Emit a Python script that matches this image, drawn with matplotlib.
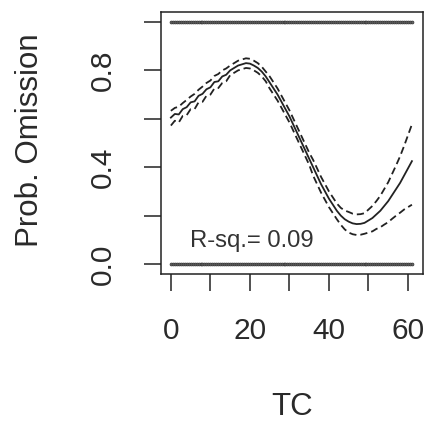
import matplotlib
matplotlib.use("Agg")
import matplotlib.pyplot as plt

# ---- data ----
tc = list(range(0, 62))
fit = [0.605, 0.62, 0.618, 0.64, 0.648, 0.668, 0.672, 0.695, 0.703, 0.722,
       0.73, 0.752, 0.755, 0.775, 0.782, 0.80, 0.81, 0.82, 0.825, 0.83,
       0.828, 0.82, 0.81, 0.795, 0.775, 0.75, 0.725, 0.70, 0.67, 0.64,
       0.61, 0.575, 0.54, 0.505, 0.47, 0.435, 0.40, 0.365, 0.33, 0.30,
       0.27, 0.245, 0.22, 0.20, 0.185, 0.175, 0.168, 0.165, 0.166, 0.17,
       0.18, 0.19, 0.205, 0.22, 0.24, 0.26, 0.285, 0.31, 0.335, 0.365,
       0.395, 0.425]
upper = [0.633, 0.645, 0.650, 0.665, 0.678, 0.692, 0.703, 0.720, 0.733, 0.748,
         0.758, 0.777, 0.785, 0.800, 0.808, 0.82, 0.83, 0.84, 0.845, 0.85,
         0.848, 0.84, 0.83, 0.815, 0.795, 0.775, 0.75, 0.725, 0.695, 0.665,
         0.635, 0.60, 0.565, 0.53, 0.495, 0.46, 0.43, 0.395, 0.36, 0.33,
         0.30, 0.275, 0.25, 0.232, 0.221, 0.215, 0.208, 0.205, 0.206, 0.21,
         0.225, 0.24, 0.26, 0.282, 0.31, 0.338, 0.373, 0.408, 0.445, 0.487,
         0.532, 0.577]
lower = [0.572, 0.592, 0.585, 0.612, 0.615, 0.640, 0.640, 0.668, 0.670, 0.695,
         0.700, 0.725, 0.727, 0.748, 0.755, 0.78, 0.79, 0.80, 0.805, 0.81,
         0.808, 0.80, 0.79, 0.775, 0.755, 0.725, 0.70, 0.675, 0.645, 0.615,
         0.585, 0.55, 0.515, 0.48, 0.445, 0.41, 0.365, 0.33, 0.295, 0.265,
         0.235, 0.21, 0.185, 0.162, 0.143, 0.13, 0.123, 0.12, 0.121, 0.125,
         0.13, 0.135, 0.145, 0.152, 0.163, 0.173, 0.187, 0.20, 0.212, 0.225,
         0.235, 0.245]
# observed TC values (omission coded 0 / 1)
tc_obs = [0, 0.5, 1, 1.5, 2, 2.5, 3, 3.5, 4, 4.5, 5, 5.5, 6, 6.5, 7, 7.5, 8, 8.5,
          9, 9.5, 10, 10.5, 11, 11.5, 12, 12.5, 13, 13.5, 14, 14.5, 15, 15.5,
          16, 16.5, 17, 17.5, 18, 18.5, 19, 19.5, 20, 20.5, 21, 21.5, 22, 22.5,
          23, 23.5, 24, 24.5, 25, 25.5, 26, 26.5, 27, 27.5, 28, 28.5, 29, 29.5,
          30, 30.5, 31, 31.5, 32, 32.5, 33, 33.5, 34, 34.5, 35, 35.5, 36, 36.5,
          37, 37.5, 38, 38.5, 39, 39.5, 40, 40.5, 41, 41.5, 42, 42.5, 43, 43.5,
          44, 44.5, 45, 45.5, 46, 46.5, 47, 47.5, 48, 48.5, 49, 49.5, 50, 50.5,
          51, 51.5, 52, 52.5, 53, 53.5, 54, 54.5, 55, 55.5, 56, 56.5, 57, 57.5,
          58, 58.5, 59, 59.5, 60, 60.5, 61]
obs_levels = [0, 1]
xticks = [0, 10, 20, 30, 40, 50, 60]
xticklabels = ["0", "", "20", "", "40", "", "60"]
yticks = [0.0, 0.2, 0.4, 0.6, 0.8, 1.0]
yticklabels = ["0.0", "", "0.4", "", "0.8", ""]
rsq_text = "R-sq.= 0.09"

plt.rcParams['font.family'] = ['Liberation Sans', 'DejaVu Sans']
ink = '#222222'

fig = plt.figure(figsize=(4.28, 4.23), dpi=100)
W, H = 428, 423
ax = fig.add_axes([161 / W, 1 - 273.7 / H, (423 - 161) / W, (273.7 - 12.3) / H])

for lvl in obs_levels:
    ax.plot(tc_obs, [lvl] * len(tc_obs), linestyle='none', marker='o',
            ms=2.1, mew=0.5, mfc='#666666', mec='#333333')

ax.plot(tc, fit, color=ink, lw=1.3)
ax.plot(tc, upper, color=ink, lw=1.3, dashes=(4.0, 2.2))
ax.plot(tc, lower, color=ink, lw=1.3, dashes=(4.0, 2.2))

ax.text(4.8, 0.07, rsq_text, fontsize=17.2, color='#333333', ha='left',
        va='baseline')

ax.set_xlim(-2.5, 63.8)
ax.set_ylim(-0.04, 1.04)
ax.set_xticks(xticks)
ax.set_xticklabels(xticklabels)
ax.set_yticks(yticks)
ax.set_yticklabels(yticklabels, rotation=90, va='center')
ax.tick_params(direction='out', length=12.5, width=1.1, color=ink,
               labelcolor='#2a2a2a', labelsize=21.5, pad=19)
for s in ax.spines.values():
    s.set_linewidth(1.1)
    s.set_color(ink)

fig.text(30 / W, 1 - 140 / H, "Prob. Omission", rotation=90, fontsize=22.5,
         color='#2a2a2a', ha='center', va='center')
fig.text(292 / W, 1 - 407 / H, "TC", fontsize=22.5, color='#2a2a2a',
         ha='center', va='center')

fig.savefig("out.png", dpi=100)
